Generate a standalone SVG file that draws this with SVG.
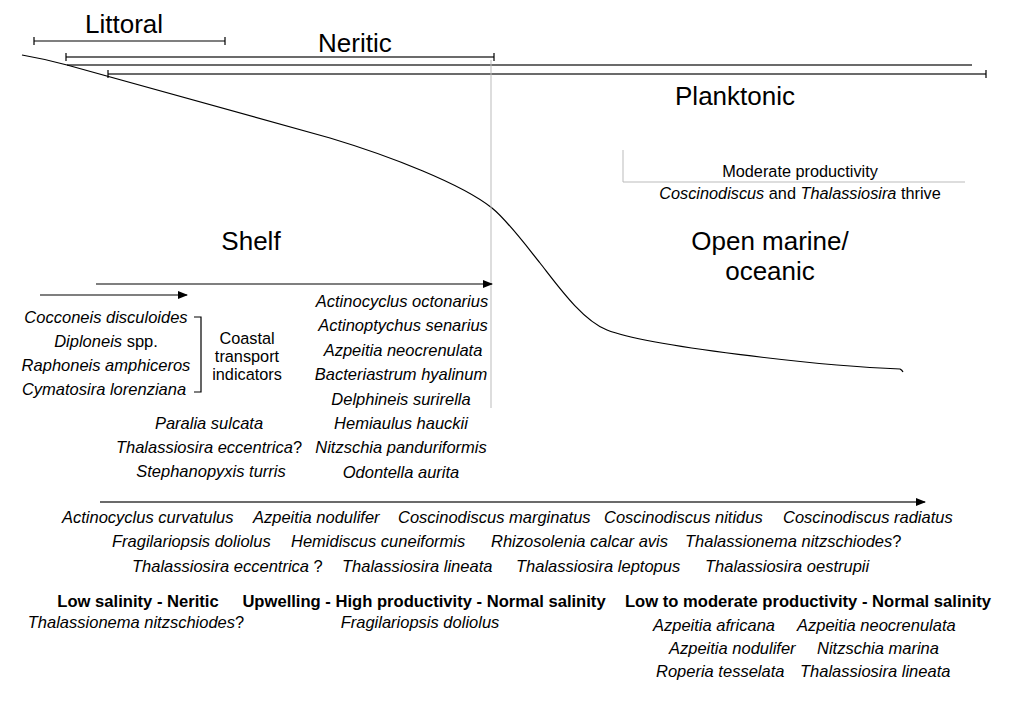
<svg xmlns="http://www.w3.org/2000/svg" width="1009" height="702" viewBox="0 0 1009 702">
<style>
text{font-family:"Liberation Sans",Arial,sans-serif;fill:#000}
.big{font-size:26px}
.sp{font-size:16.5px;font-style:italic}
.nm{font-size:16.3px}
.b{font-size:16.6px;font-weight:bold}
.up{font-style:normal}
.it{font-style:italic}
.mid{text-anchor:middle}
.ln{stroke:#000;stroke-width:1.2;fill:none}
.dl{stroke:#3a3a3a;stroke-width:1.6;fill:none}
.gr{stroke:#bbb;stroke-width:1;fill:none}
</style>
<defs>
<marker id="ah" markerWidth="10" markerHeight="8" refX="9" refY="4" orient="auto" markerUnits="userSpaceOnUse">
<path d="M0,0 L10,4 L0,8 Z" fill="#000"/>
</marker>
</defs>
<rect width="1009" height="702" fill="#fff"/>

<g id="ranges">
<path class="ln" d="M34,41 H225 M34,37 V45 M225,37 V45"/>
<path class="dl" d="M66,57 H494"/>
<path class="ln" d="M66,53 V61 M494,53 V61"/>
<path class="dl" d="M67,65 H972"/>
<path class="dl" d="M108,74 H986"/>
<path class="ln" d="M108,70 V78 M986,70 V78"/>
</g>

<g id="profile">
<path class="ln" d="M22,55 Q45,59 67,65 L330,138 C390,156 462,184 492,208 C507,220 526,245.5 540,263 C558,286 582,320 607,330 C647,346 820,366 900,369 Q902,370 903,372"/>
</g>

<g id="guides">
<path class="gr" d="M491,60 V408"/>
<path class="gr" d="M623,150 V182 H965"/>
</g>

<g id="zone-labels">
<text class="big" x="85" y="33">Littoral</text>
<text class="big" x="318" y="52">Neritic</text>
<text class="big mid" x="735" y="105">Planktonic</text>
<text class="big mid" x="251" y="250">Shelf</text>
<text class="big mid" x="770" y="250">Open marine/</text>
<text class="big mid" x="770" y="280">oceanic</text>
</g>

<g id="moderate-productivity">
<text class="nm mid" x="800" y="177">Moderate productivity</text>
<text class="nm mid" x="800" y="199"><tspan class="it">Coscinodiscus</tspan> and <tspan class="it">Thalassiosira</tspan> thrive</text>
</g>

<g id="connectors">
<path class="ln" d="M96,284 H492" marker-end="url(#ah)"/>
<path class="ln" d="M40,295 H187" marker-end="url(#ah)"/>
<path class="dl" d="M100,502 H925" marker-end="url(#ah)"/>
<path class="ln" d="M194,317 H201 V392 H194"/>
</g>

<g id="coastal-list">
<text class="sp mid" x="106" y="323">Cocconeis disculoides</text>
<text class="sp mid" x="106" y="347">Diploneis<tspan class="up"> spp.</tspan></text>
<text class="sp mid" x="106" y="371">Raphoneis amphiceros</text>
<text class="sp mid" x="104" y="395">Cymatosira lorenziana</text>
</g>

<g id="coastal-label">
<text class="nm mid" x="247" y="344">Coastal</text>
<text class="nm mid" x="247" y="362">transport</text>
<text class="nm mid" x="247" y="380">indicators</text>
</g>

<g id="shelf-list">
<text class="sp mid" x="209" y="429">Paralia sulcata</text>
<text class="sp mid" x="209" y="453">Thalassiosira eccentrica<tspan class="up">?</tspan></text>
<text class="sp mid" x="211" y="477">Stephanopyxis turris</text>
</g>

<g id="neritic-list">
<text class="sp mid" x="402" y="307">Actinocyclus octonarius</text>
<text class="sp mid" x="403" y="331">Actinoptychus senarius</text>
<text class="sp mid" x="403" y="356">Azpeitia neocrenulata</text>
<text class="sp mid" x="401" y="380">Bacteriastrum hyalinum</text>
<text class="sp mid" x="401" y="405">Delphineis surirella</text>
<text class="sp mid" x="401" y="429">Hemiaulus hauckii</text>
<text class="sp mid" x="401" y="453">Nitzschia panduriformis</text>
<text class="sp mid" x="401" y="478">Odontella aurita</text>
</g>

<g id="planktonic-list">
<text class="sp" x="62" y="523">Actinocyclus curvatulus</text>
<text class="sp" x="253" y="523">Azpeitia nodulifer</text>
<text class="sp" x="398" y="523">Coscinodiscus marginatus</text>
<text class="sp" x="604" y="523">Coscinodiscus nitidus</text>
<text class="sp" x="783" y="523">Coscinodiscus radiatus</text>
<text class="sp" x="112" y="547">Fragilariopsis doliolus</text>
<text class="sp" x="291" y="547">Hemidiscus cuneiformis</text>
<text class="sp" x="491" y="547">Rhizosolenia calcar avis</text>
<text class="sp" x="685" y="547">Thalassionema nitzschiodes<tspan class="up">?</tspan></text>
<text class="sp" x="132" y="572">Thalassiosira eccentrica<tspan class="up"> ?</tspan></text>
<text class="sp" x="342" y="572">Thalassiosira lineata</text>
<text class="sp" x="516" y="572">Thalassiosira leptopus</text>
<text class="sp" x="705" y="572">Thalassiosira oestrupii</text>
</g>

<g id="low-salinity">
<text class="b mid" x="138" y="607">Low salinity - Neritic</text>
<text class="sp mid" x="136" y="628">Thalassionema nitzschiodes<tspan class="up">?</tspan></text>
</g>

<g id="upwelling">
<text class="b mid" x="424" y="607">Upwelling - High productivity - Normal salinity</text>
<text class="sp mid" x="420" y="628">Fragilariopsis doliolus</text>
</g>

<g id="low-moderate">
<text class="b mid" x="808" y="607">Low to moderate productivity - Normal salinity</text>
<text class="sp" x="653" y="631">Azpeitia africana</text>
<text class="sp" x="797" y="631">Azpeitia neocrenulata</text>
<text class="sp" x="669" y="654">Azpeitia nodulifer</text>
<text class="sp" x="817" y="654">Nitzschia marina</text>
<text class="sp" x="656" y="677">Roperia tesselata</text>
<text class="sp" x="800" y="677">Thalassiosira lineata</text>
</g>
</svg>
